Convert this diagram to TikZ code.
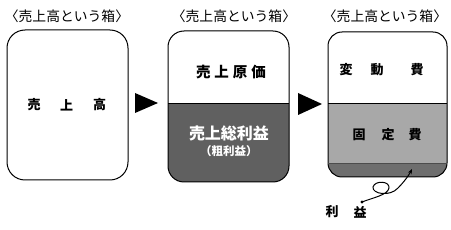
\documentclass[tikz,border=0pt]{standalone}
\usepackage{fontspec}
\newfontfamily\cjk{Noto Sans CJK JP}
\usetikzlibrary{arrows.meta}
\definecolor{darkA}{HTML}{606060}
\definecolor{lightB}{HTML}{A8A8A8}
\definecolor{darkB}{HTML}{6E6E6E}
\tikzset{
  ttl/.style={font=\cjk\fontsize{13.8}{13.8}\selectfont, text=black, inner sep=0pt},
  lbl/.style={font=\cjk\bfseries\fontsize{13}{13}\selectfont, inner sep=0pt},
  boxline/.style={draw=black, line width=1pt},
  tri/.style={fill=black},
}
\begin{document}
\begin{tikzpicture}[x=1pt,y=1pt]
\useasboundingbox (0,0) rectangle (451,-230);
% titles
\node[ttl] (t1) at (67,-16) {〈売上高という箱〉};
\node[ttl] (t2) at (234,-16) {〈売上高という箱〉};
\node[ttl] (t3) at (385,-16) {〈売上高という箱〉};
% box 1
\draw[boxline, fill=white, rounded corners=18] (7,-30) rectangle (128,-180);
\node[lbl] (s1) at (34,-105) {売};
\node[lbl] (s2) at (66.5,-105) {上};
\node[lbl] (s3) at (99.5,-105) {高};
% arrow 1
\fill[tri] (135,-93) -- (158,-103) -- (135,-113) -- cycle;
% box 2
\fill[darkA, rounded corners=16] (168,-31) rectangle (289,-182);
\begin{scope}
\clip (160,-20) rectangle (300,-103);
\fill[white, rounded corners=16] (168,-31) rectangle (289,-182);
\end{scope}
\draw[boxline, rounded corners=16] (168,-31) rectangle (289,-182);
\draw[black, line width=0.8pt] (168,-103) -- (289,-103);
\node[lbl, font=\cjk\bfseries\fontsize{14.5}{14.5}\selectfont] (c1) at (231,-72) {売\hspace{4pt}上\hspace{4pt}原\hspace{4pt}価};
\node[lbl, text=white, font=\cjk\bfseries\fontsize{16}{16}\selectfont] (g1) at (229,-133) {売上総利益};
\node[lbl, text=white, font=\cjk\bfseries\fontsize{11.5}{11.5}\selectfont] (g2) at (229,-151) {（粗利益）};
% arrow 2
\fill[tri] (298,-93) -- (322,-104) -- (298,-115) -- cycle;
% box 3
\fill[darkB, rounded corners=14] (328,-32) rectangle (447,-177);
\begin{scope}
\clip (320,-20) rectangle (455,-163);
\fill[lightB, rounded corners=14] (328,-32) rectangle (447,-177);
\end{scope}
\begin{scope}
\clip (320,-20) rectangle (455,-103);
\fill[white, rounded corners=14] (328,-32) rectangle (447,-177);
\end{scope}
\draw[boxline, rounded corners=14] (328,-32) rectangle (447,-177);
\draw[black, line width=0.8pt] (328,-103) -- (447,-103);
\draw[black!70, line width=0.8pt] (328,-163) -- (447,-163);
\node[lbl] (v1) at (346,-70) {変};
\node[lbl] (v2) at (377,-70) {動};
\node[lbl] (v3) at (417,-70) {費};
\node[lbl] (f1) at (359,-135) {固};
\node[lbl] (f2) at (388,-135) {定};
\node[lbl] (f3) at (415,-135) {費};
% profit label and curve
\node[lbl] (r1) at (332,-212) {利};
\node[lbl] (r2) at (360,-212) {益};
\coordinate (dot) at (362,-202);
\coordinate (tip) at (412,-169);
\fill (dot) circle (1.6);
\draw[line width=1pt, -{Stealth[length=5pt,width=4pt]}] (dot) .. controls (372,-198) and (388,-195) .. (389,-188) .. controls (390,-181) and (375,-180) .. (373,-187) .. controls (372,-194) and (390,-197) .. (398,-188) .. controls (404,-182) and (409,-175) .. (tip);
\end{tikzpicture}
\end{document}
